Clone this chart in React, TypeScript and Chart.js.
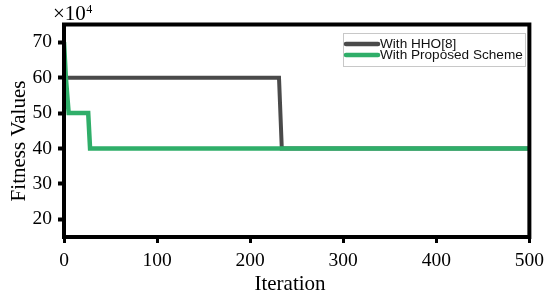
import React, { useEffect, useRef } from "react";
import { Chart, registerables } from "chart.js";

Chart.register(...registerables);

const hhoX = [0, 231, 234, 500];
const hhoY = [60, 60, 40, 40];
const propX = [0, 2, 5, 26, 28, 500];
const propY = [70, 60, 50, 50, 40, 40];
const seriesNames = ["With HHO[8]", "With Proposed Scheme"];
const seriesColors = ["#4a4a4a", "#2fae69"];
const xTicks = [0, 100, 200, 300, 400, 500];
const yTicks = [20, 30, 40, 50, 60, 70];
const xTitle = "Iteration";
const yTitle = "Fitness Values";
const exponent = "4";

const SERIF = "'Liberation Serif', 'Times New Roman', serif";
const SANS = "'Liberation Sans', Arial, sans-serif";

const decorPlugin = {
  id: "decor",
  afterDatasetsDraw(chart: any) {
    const { ctx, chartArea } = chart;
    const { left, right, top, bottom } = chartArea;
    ctx.save();
    // frame
    ctx.strokeStyle = "#000";
    ctx.lineWidth = 4;
    ctx.strokeRect(left, top, right - left, bottom - top);

    // legend
    const bx = 343, by = 33, bw = 182, bh = 33;
    ctx.fillStyle = "#fff";
    ctx.fillRect(bx, by, bw, bh);
    ctx.strokeStyle = "#c8c8c8";
    ctx.lineWidth = 1;
    ctx.strokeRect(bx + 0.5, by + 0.5, bw, bh);
    const rows = [44, 55];
    seriesNames.forEach((name, i) => {
      ctx.strokeStyle = seriesColors[i];
      ctx.lineWidth = 4.5;
      ctx.lineCap = "round";
      ctx.beginPath();
      ctx.moveTo(346, rows[i]);
      ctx.lineTo(378, rows[i]);
      ctx.stroke();
      ctx.fillStyle = "#111";
      ctx.font = `13.6px ${SANS}`;
      ctx.textBaseline = "middle";
      ctx.textAlign = "left";
      ctx.fillText(name, 380, rows[i] + 0.5);
    });

    // multiplier
    ctx.fillStyle = "#000";
    ctx.textAlign = "left";
    ctx.textBaseline = "alphabetic";
    ctx.font = `21px ${SERIF}`;
    ctx.fillText("\u00d710", 53, 20);
    const w = ctx.measureText("\u00d710").width;
    ctx.font = `12px ${SERIF}`;
    ctx.fillText(exponent, 53 + w + 0.5, 13);

    // axis titles
    ctx.font = `21px ${SERIF}`;
    ctx.textAlign = "center";
    ctx.textBaseline = "alphabetic";
    ctx.fillText(xTitle, 290, 290);
    ctx.save();
    ctx.translate(25, 141);
    ctx.rotate(-Math.PI / 2);
    ctx.fillText(yTitle, 0, 0);
    ctx.restore();
    ctx.restore();
  },
};

export default function App() {
  const ref = useRef<HTMLCanvasElement>(null);
  useEffect(() => {
    if (!ref.current) return;
    const chart = new Chart(ref.current, {
      type: "line",
      data: {
        datasets: [
          {
            label: seriesNames[1],
            data: propX.map((x, i) => ({ x, y: propY[i] })),
            borderColor: seriesColors[1],
            borderWidth: 4.5,
            pointRadius: 0,
            tension: 0,
            order: 1,
          },
          {
            label: seriesNames[0],
            data: hhoX.map((x, i) => ({ x, y: hhoY[i] })),
            borderColor: seriesColors[0],
            borderWidth: 4,
            pointRadius: 0,
            tension: 0,
            order: 2,
          },
        ],
      },
      plugins: [decorPlugin],
      options: {
        responsive: false,
        animation: false,
        devicePixelRatio: 1,
        layout: { padding: { top: 24.5, right: 18, left: 0, bottom: 0 } },
        plugins: { legend: { display: false }, tooltip: { enabled: false } },
        scales: {
          x: {
            type: "linear",
            min: 0,
            max: 500,
            afterFit: (s: any) => { s.height = 59; },
            afterBuildTicks: (s: any) => { s.ticks = xTicks.map((v) => ({ value: v })); },
            border: { display: false },
            grid: {
              drawOnChartArea: false,
              drawTicks: true,
              tickLength: 6,
              tickWidth: 3,
              tickColor: "#000",
            },
            ticks: {
              color: "#000",
              padding: 6,
              maxRotation: 0,
              font: { family: SERIF, size: 19.5 },
            },
          },
          y: {
            type: "linear",
            min: 15,
            max: 75,
            afterFit: (s: any) => { s.width = 64; },
            afterBuildTicks: (s: any) => { s.ticks = yTicks.map((v) => ({ value: v })); },
            border: { display: false },
            grid: {
              drawOnChartArea: false,
              drawTicks: true,
              tickLength: 6,
              tickWidth: 4,
              tickColor: "#000",
            },
            ticks: {
              color: "#000",
              padding: 6,
              font: { family: SERIF, size: 19.5 },
            },
          },
        },
      },
    });
    return () => chart.destroy();
  }, []);
  return (
    <div style={{ position: "fixed", left: 0, top: 0, width: 550, height: 296, background: "#fff" }}>
      <canvas ref={ref} width={550} height={296} style={{ display: "block" }} />
    </div>
  );
}
